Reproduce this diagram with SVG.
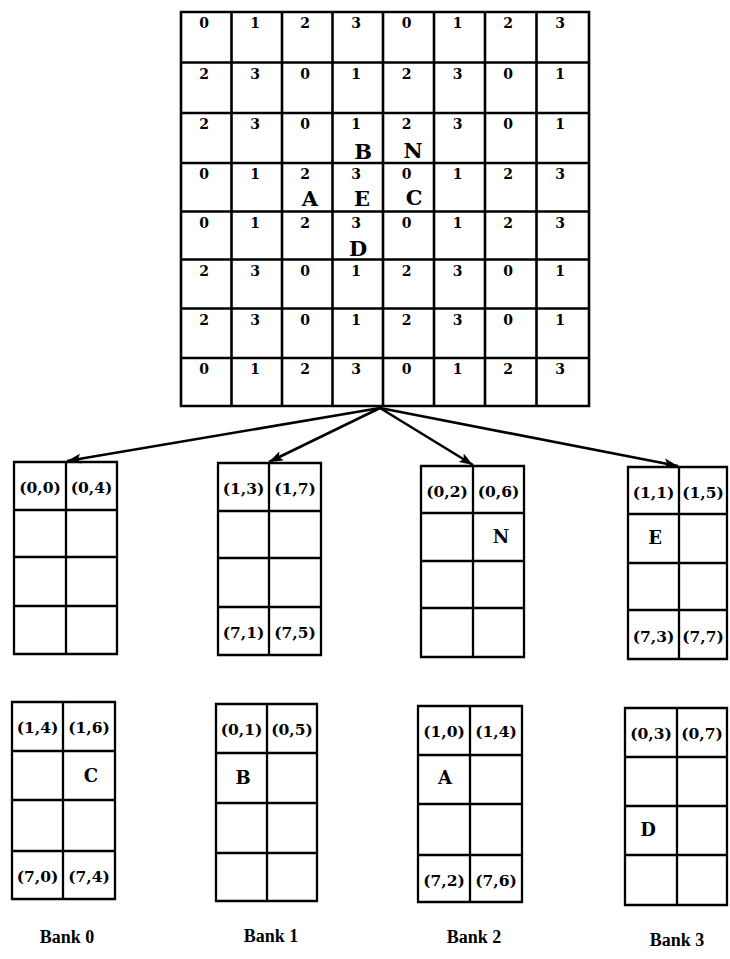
<svg xmlns="http://www.w3.org/2000/svg" width="730" height="959" viewBox="0 0 730 959">
<style>
.g{fill:none;stroke:#000;stroke-width:2.6;stroke-linecap:square}
.b{fill:none;stroke:#000;stroke-width:2.3;stroke-linecap:square}
.d{font-family:"DejaVu Serif",serif;font-weight:bold;font-size:14px;text-anchor:middle;fill:#000}
.L{font-family:"DejaVu Serif",serif;font-weight:bold;font-size:21px;text-anchor:middle;fill:#000}
.c{font-family:"DejaVu Serif",serif;font-weight:bold;font-size:15.5px;text-anchor:middle;fill:#000}
.l{font-family:"DejaVu Serif",serif;font-weight:bold;font-size:18px;text-anchor:middle;fill:#000}
.t{font-family:"Liberation Serif",serif;font-weight:bold;font-size:18px;text-anchor:middle;fill:#000}
.a{fill:none;stroke:#000;stroke-width:2.6}
</style>
<defs>
<marker id="ah" markerUnits="userSpaceOnUse" markerWidth="14" markerHeight="10" refX="14" refY="5" orient="auto">
<path d="M0,0 L14,5 L0,10 L3,5 z" fill="#000"/>
</marker>
</defs>

<g id="grid">
<path class="g" d="M181,12H589V406H181Z M231.5,12V406 M282,12V406 M332.5,12V406 M383,12V406 M434,12V406 M485,12V406 M536.5,12V406 M181,62.5H589 M181,113H589 M181,163H589 M181,211.5H589 M181,259.5H589 M181,308.5H589 M181,358H589"/>
<g>
<text class="d" x="204" y="28">0</text><text class="d" x="255" y="28">1</text><text class="d" x="305" y="28">2</text><text class="d" x="356" y="28">3</text><text class="d" x="406.5" y="28">0</text><text class="d" x="457.5" y="28">1</text><text class="d" x="508" y="28">2</text><text class="d" x="560" y="28">3</text>
<text class="d" x="204" y="79">2</text><text class="d" x="255" y="79">3</text><text class="d" x="305" y="79">0</text><text class="d" x="356" y="79">1</text><text class="d" x="406.5" y="79">2</text><text class="d" x="457.5" y="79">3</text><text class="d" x="508" y="79">0</text><text class="d" x="560" y="79">1</text>
<text class="d" x="204" y="129">2</text><text class="d" x="255" y="129">3</text><text class="d" x="305" y="129">0</text><text class="d" x="356" y="129">1</text><text class="d" x="406.5" y="129">2</text><text class="d" x="457.5" y="129">3</text><text class="d" x="508" y="129">0</text><text class="d" x="560" y="129">1</text>
<text class="d" x="204" y="179">0</text><text class="d" x="255" y="179">1</text><text class="d" x="305" y="179">2</text><text class="d" x="356" y="179">3</text><text class="d" x="406.5" y="179">0</text><text class="d" x="457.5" y="179">1</text><text class="d" x="508" y="179">2</text><text class="d" x="560" y="179">3</text>
<text class="d" x="204" y="227.5">0</text><text class="d" x="255" y="227.5">1</text><text class="d" x="305" y="227.5">2</text><text class="d" x="356" y="227.5">3</text><text class="d" x="406.5" y="227.5">0</text><text class="d" x="457.5" y="227.5">1</text><text class="d" x="508" y="227.5">2</text><text class="d" x="560" y="227.5">3</text>
<text class="d" x="204" y="275.5">2</text><text class="d" x="255" y="275.5">3</text><text class="d" x="305" y="275.5">0</text><text class="d" x="356" y="275.5">1</text><text class="d" x="406.5" y="275.5">2</text><text class="d" x="457.5" y="275.5">3</text><text class="d" x="508" y="275.5">0</text><text class="d" x="560" y="275.5">1</text>
<text class="d" x="204" y="324.5">2</text><text class="d" x="255" y="324.5">3</text><text class="d" x="305" y="324.5">0</text><text class="d" x="356" y="324.5">1</text><text class="d" x="406.5" y="324.5">2</text><text class="d" x="457.5" y="324.5">3</text><text class="d" x="508" y="324.5">0</text><text class="d" x="560" y="324.5">1</text>
<text class="d" x="204" y="374">0</text><text class="d" x="255" y="374">1</text><text class="d" x="305" y="374">2</text><text class="d" x="356" y="374">3</text><text class="d" x="406.5" y="374">0</text><text class="d" x="457.5" y="374">1</text><text class="d" x="508" y="374">2</text><text class="d" x="560" y="374">3</text>
</g>
<text class="L" x="363" y="159">B</text>
<text class="L" x="413" y="158">N</text>
<text class="L" x="310" y="206">A</text>
<text class="L" x="362" y="206">E</text>
<text class="L" x="414" y="205">C</text>
<text class="L" x="358" y="256">D</text>
</g>

<g id="connectors">
<line class="a" x1="380" y1="408" x2="67" y2="461" marker-end="url(#ah)"/>
<line class="a" x1="380" y1="408" x2="269" y2="462" marker-end="url(#ah)"/>
<line class="a" x1="380" y1="408" x2="473" y2="465" marker-end="url(#ah)"/>
<line class="a" x1="380" y1="408" x2="678" y2="466" marker-end="url(#ah)"/>
</g>

<g id="bank0-upper">
<path class="b" d="M14,462H117V654H14Z M66,462V654 M14,510H117 M14,557H117 M14,606H117"/>
<text class="c" x="40" y="493">(0,0)</text><text class="c" x="91.5" y="493">(0,4)</text>
</g>
<g id="bank1-upper">
<path class="b" d="M218,463H321V655H218Z M269,463V655 M218,511H321 M218,558H321 M218,607H321"/>
<text class="c" x="243.5" y="494">(1,3)</text><text class="c" x="295" y="494">(1,7)</text>
<text class="c" x="243.5" y="638">(7,1)</text><text class="c" x="295" y="638">(7,5)</text>
</g>
<g id="bank2-upper">
<path class="b" d="M421,466H524V657H421Z M473,466V657 M421,513H524 M421,561H524 M421,608H524"/>
<text class="c" x="447" y="497">(0,2)</text><text class="c" x="498.5" y="497">(0,6)</text>
<text class="l" x="501" y="543">N</text>
</g>
<g id="bank3-upper">
<path class="b" d="M628,467H727V659H628Z M679,467V659 M628,514H727 M628,563H727 M628,610H727"/>
<text class="c" x="653.5" y="498">(1,1)</text><text class="c" x="703" y="498">(1,5)</text>
<text class="l" x="655" y="544">E</text>
<text class="c" x="653.5" y="642">(7,3)</text><text class="c" x="703" y="642">(7,7)</text>
</g>

<g id="bank0-lower">
<path class="b" d="M12,702H115V899H12Z M63,702V899 M12,751H115 M12,800H115 M12,851H115"/>
<text class="c" x="37.5" y="733">(1,4)</text><text class="c" x="89" y="733">(1,6)</text>
<text class="l" x="91" y="782">C</text>
<text class="c" x="37.5" y="882">(7,0)</text><text class="c" x="89" y="882">(7,4)</text>
</g>
<g id="bank1-lower">
<path class="b" d="M216,704H317V901H216Z M267,704V901 M216,753H317 M216,803H317 M216,853H317"/>
<text class="c" x="241.5" y="735">(0,1)</text><text class="c" x="292" y="735">(0,5)</text>
<text class="l" x="243" y="784">B</text>
</g>
<g id="bank2-lower">
<path class="b" d="M418,706H522V902H418Z M470,706V902 M418,755H522 M418,804H522 M418,855H522"/>
<text class="c" x="444" y="737">(1,0)</text><text class="c" x="496" y="737">(1,4)</text>
<text class="l" x="445" y="784">A</text>
<text class="c" x="444" y="886">(7,2)</text><text class="c" x="496" y="886">(7,6)</text>
</g>
<g id="bank3-lower">
<path class="b" d="M625,708H727V905H625Z M677,708V905 M625,757H727 M625,806H727 M625,855H727"/>
<text class="c" x="651" y="739">(0,3)</text><text class="c" x="702" y="739">(0,7)</text>
<text class="l" x="648" y="836">D</text>
</g>

<g id="labels">
<text class="t" x="67" y="943">Bank 0</text>
<text class="t" x="271" y="942">Bank 1</text>
<text class="t" x="474" y="943">Bank 2</text>
<text class="t" x="677" y="946">Bank 3</text>
</g>
</svg>
